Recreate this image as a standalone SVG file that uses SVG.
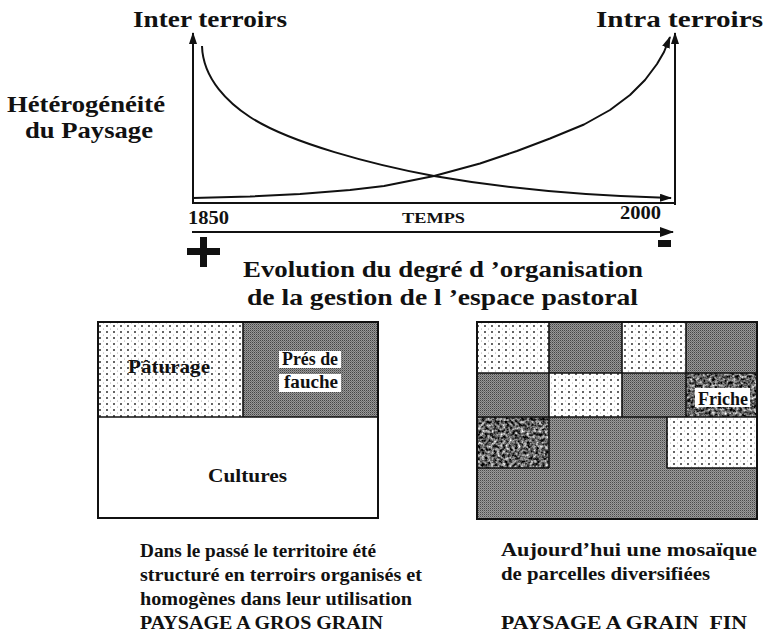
<svg xmlns="http://www.w3.org/2000/svg" width="768" height="639" viewBox="0 0 768 639">
  <style>
    .t { font-family: "Liberation Serif", "Times New Roman", serif; font-weight: bold; fill: #111; }
    .big { font-size: 24px; }
    .mid { font-size: 18px; }
    .cap { font-size: 19px; }
    .sm { font-size: 15px; }
    .ax { fill: none; stroke: #111; stroke-width: 2; }
    .crv { fill: none; stroke: #111; stroke-width: 2; stroke-linejoin: round; }
    .edge { fill: none; stroke: #111; stroke-width: 1.6; }
    .box { fill: #fff; }
  </style>
  <defs>
    <marker id="arr" viewBox="0 0 12 8" refX="11" refY="4" markerWidth="12" markerHeight="8" orient="auto" markerUnits="userSpaceOnUse">
      <path d="M0,0 L12,4 L0,8 z" fill="#111"/>
    </marker>
    <marker id="arrS" viewBox="0 0 14 10" refX="13" refY="5" markerWidth="14" markerHeight="10" orient="auto" markerUnits="userSpaceOnUse">
      <path d="M0,0 L14,5 L0,10 z" fill="#111"/>
    </marker>
    <pattern id="dots" patternUnits="userSpaceOnUse" width="7" height="6">
      <rect width="7" height="6" fill="#fff"/>
      <circle cx="2" cy="2" r="0.95" fill="#222"/>
      <circle cx="5.5" cy="5" r="0.55" fill="#999"/>
    </pattern>
    <pattern id="gray" patternUnits="userSpaceOnUse" width="2" height="2">
      <rect width="2" height="2" fill="#9a9a9a"/>
      <rect width="1" height="1" fill="#4a4a4a"/>
      <rect x="1" y="1" width="1" height="1" fill="#7a7a7a"/>
    </pattern>
    <pattern id="grayD" patternUnits="userSpaceOnUse" width="2" height="2">
      <rect width="2" height="2" fill="#989898"/>
      <rect width="1" height="1" fill="#454545"/>
      <rect x="1" y="1" width="1" height="1" fill="#6e6e6e"/>
    </pattern>
    <filter id="mottle" x="0" y="0" width="1" height="1" color-interpolation-filters="sRGB">
      <feTurbulence type="fractalNoise" baseFrequency="0.33" numOctaves="3" seed="7" result="n"/>
      <feColorMatrix in="n" type="matrix" values="1 0 0 0 0  1 0 0 0 0  1 0 0 0 0  0 0 0 0 1"/>
      <feComponentTransfer>
        <feFuncR type="linear" slope="1.7" intercept="-0.45"/>
        <feFuncG type="linear" slope="1.7" intercept="-0.45"/>
        <feFuncB type="linear" slope="1.7" intercept="-0.45"/>
      </feComponentTransfer>
    </filter>
  </defs>

  <rect width="768" height="639" fill="#fff"/>

  <!-- Chart -->
  <g id="axes">
    <line class="ax" x1="193" y1="203" x2="193" y2="33" marker-end="url(#arr)"/>
    <line class="ax" x1="192" y1="203" x2="676" y2="203"/>
    <line class="ax" x1="675" y1="205" x2="675" y2="33" marker-end="url(#arr)"/>
    <line class="ax" x1="192" y1="232" x2="673" y2="232" stroke-width="1.6" marker-end="url(#arrS)"/>
  </g>

  <g id="curves">
    <path id="curve-inter" class="crv" d="M 202 46 C 203 80, 230 104, 250 117 C 290 143, 374 165, 434 176 C 514 190, 590 196, 671 198" marker-end="url(#arr)"/>
    <path id="curve-intra" class="crv" d="M193,198 L250,196.5 L300,194 L350,190 L384,186 L434,176 L480,163.5 L517,151 L550,138.5 L584,124.5 L610,110 L630,95 L645,80 L657,64 L664,52 L670,37" marker-end="url(#arr)"/>
  </g>

  <g id="label-inter"><text class="t big" x="133" y="27" textLength="154" lengthAdjust="spacingAndGlyphs">Inter terroirs</text></g>
  <g id="label-intra"><text class="t big" x="596" y="27" textLength="167" lengthAdjust="spacingAndGlyphs">Intra terroirs</text></g>
  <g id="label-heterogeneite">
    <text class="t big" x="7" y="112" textLength="158" lengthAdjust="spacingAndGlyphs">Hétérogénéité</text>
    <text class="t big" x="25" y="138" textLength="128" lengthAdjust="spacingAndGlyphs">du Paysage</text>
  </g>
  <g id="label-time">
    <text class="t mid" x="188" y="224" textLength="41" lengthAdjust="spacingAndGlyphs">1850</text>
    <text class="t sm" x="402" y="223" textLength="63" lengthAdjust="spacingAndGlyphs">TEMPS</text>
    <text class="t mid" x="620" y="219" textLength="41" lengthAdjust="spacingAndGlyphs">2000</text>
  </g>
  <g id="sign-plus">
    <rect x="187" y="248" width="33" height="7" fill="#111"/>
    <rect x="200" y="237" width="7" height="30" fill="#111"/>
  </g>
  <g id="sign-minus">
    <rect x="658" y="240" width="13" height="7" fill="#111"/>
  </g>
  <g id="label-evolution">
    <text class="t big" x="243" y="277" textLength="400" lengthAdjust="spacingAndGlyphs">Evolution du degré d ’organisation</text>
    <text class="t big" x="247" y="305" textLength="391" lengthAdjust="spacingAndGlyphs">de la gestion de l ’espace pastoral</text>
  </g>

  <!-- Past landscape map -->
  <g id="map-past">
    <rect x="98" y="322" width="145" height="95" fill="url(#dots)"/>
    <rect x="243" y="322" width="135" height="95" fill="url(#grayD)"/>
    <rect x="98" y="417" width="280" height="101" fill="#fff"/>
    <line class="edge" x1="98" y1="417" x2="378" y2="417"/>
    <line class="edge" x1="243" y1="322" x2="243" y2="417"/>
    <rect x="98" y="322" width="280" height="196" fill="none" stroke="#111" stroke-width="2"/>
    <text class="t mid" x="128" y="373" textLength="82" lengthAdjust="spacingAndGlyphs">Pâturage</text>
    <rect class="box" x="279" y="351" width="62" height="17"/>
    <rect class="box" x="279" y="374" width="62" height="18"/>
    <text class="t mid" x="282" y="365" textLength="56" lengthAdjust="spacingAndGlyphs">Prés de</text>
    <text class="t mid" x="284" y="388" textLength="54" lengthAdjust="spacingAndGlyphs">fauche</text>
    <text class="t mid" x="208" y="482" textLength="79" lengthAdjust="spacingAndGlyphs">Cultures</text>
  </g>

  <!-- Present landscape map -->
  <g id="map-present">
    <rect x="477" y="322" width="280" height="197" fill="url(#gray)"/>
    <rect x="477" y="322" width="72" height="51" fill="url(#dots)"/>
    <rect x="549" y="322" width="73" height="51" fill="url(#grayD)"/>
    <rect x="622" y="322" width="64" height="51" fill="url(#dots)"/>
    <rect x="686" y="322" width="71" height="51" fill="url(#grayD)"/>
    <rect x="477" y="373" width="72" height="44" fill="url(#grayD)"/>
    <rect x="549" y="373" width="73" height="44" fill="url(#dots)"/>
    <rect x="622" y="373" width="64" height="44" fill="url(#grayD)"/>
    <rect x="686" y="373" width="71" height="44" fill="#000" filter="url(#mottle)"/>
    <rect x="477" y="417" width="72" height="51" fill="#000" filter="url(#mottle)"/>
    <rect x="667" y="417" width="90" height="51" fill="url(#dots)"/>
    <g class="edge">
      <line x1="477" y1="373" x2="757" y2="373"/>
      <line x1="477" y1="417" x2="757" y2="417"/>
      <line x1="549" y1="322" x2="549" y2="468"/>
      <line x1="622" y1="322" x2="622" y2="417"/>
      <line x1="686" y1="322" x2="686" y2="417"/>
      <line x1="477" y1="468" x2="549" y2="468"/>
      <line x1="667" y1="417" x2="667" y2="468"/>
      <line x1="667" y1="468" x2="757" y2="468"/>
    </g>
    <rect x="477" y="322" width="280" height="197" fill="none" stroke="#111" stroke-width="2"/>
    <rect class="box" x="695" y="388" width="55" height="19"/>
    <text class="t mid" x="698" y="405" textLength="50" lengthAdjust="spacingAndGlyphs">Friche</text>
  </g>

  <!-- Captions -->
  <g id="caption-past">
    <text class="t cap" x="140" y="557" textLength="236" lengthAdjust="spacingAndGlyphs">Dans le passé le territoire été</text>
    <text class="t cap" x="140" y="581" textLength="282" lengthAdjust="spacingAndGlyphs">structuré en terroirs organisés et</text>
    <text class="t cap" x="140" y="605" textLength="272" lengthAdjust="spacingAndGlyphs">homogènes dans leur utilisation</text>
    <text class="t cap" x="140" y="629" textLength="243" lengthAdjust="spacingAndGlyphs">PAYSAGE A GROS GRAIN</text>
  </g>
  <g id="caption-present">
    <text class="t cap" x="501" y="556" textLength="256" lengthAdjust="spacingAndGlyphs">Aujourd’hui une mosaïque</text>
    <text class="t cap" x="501" y="580" textLength="209" lengthAdjust="spacingAndGlyphs">de parcelles diversifiées</text>
    <text class="t cap" x="501" y="629" textLength="246" lengthAdjust="spacingAndGlyphs">PAYSAGE A GRAIN&#160; FIN</text>
  </g>
</svg>
